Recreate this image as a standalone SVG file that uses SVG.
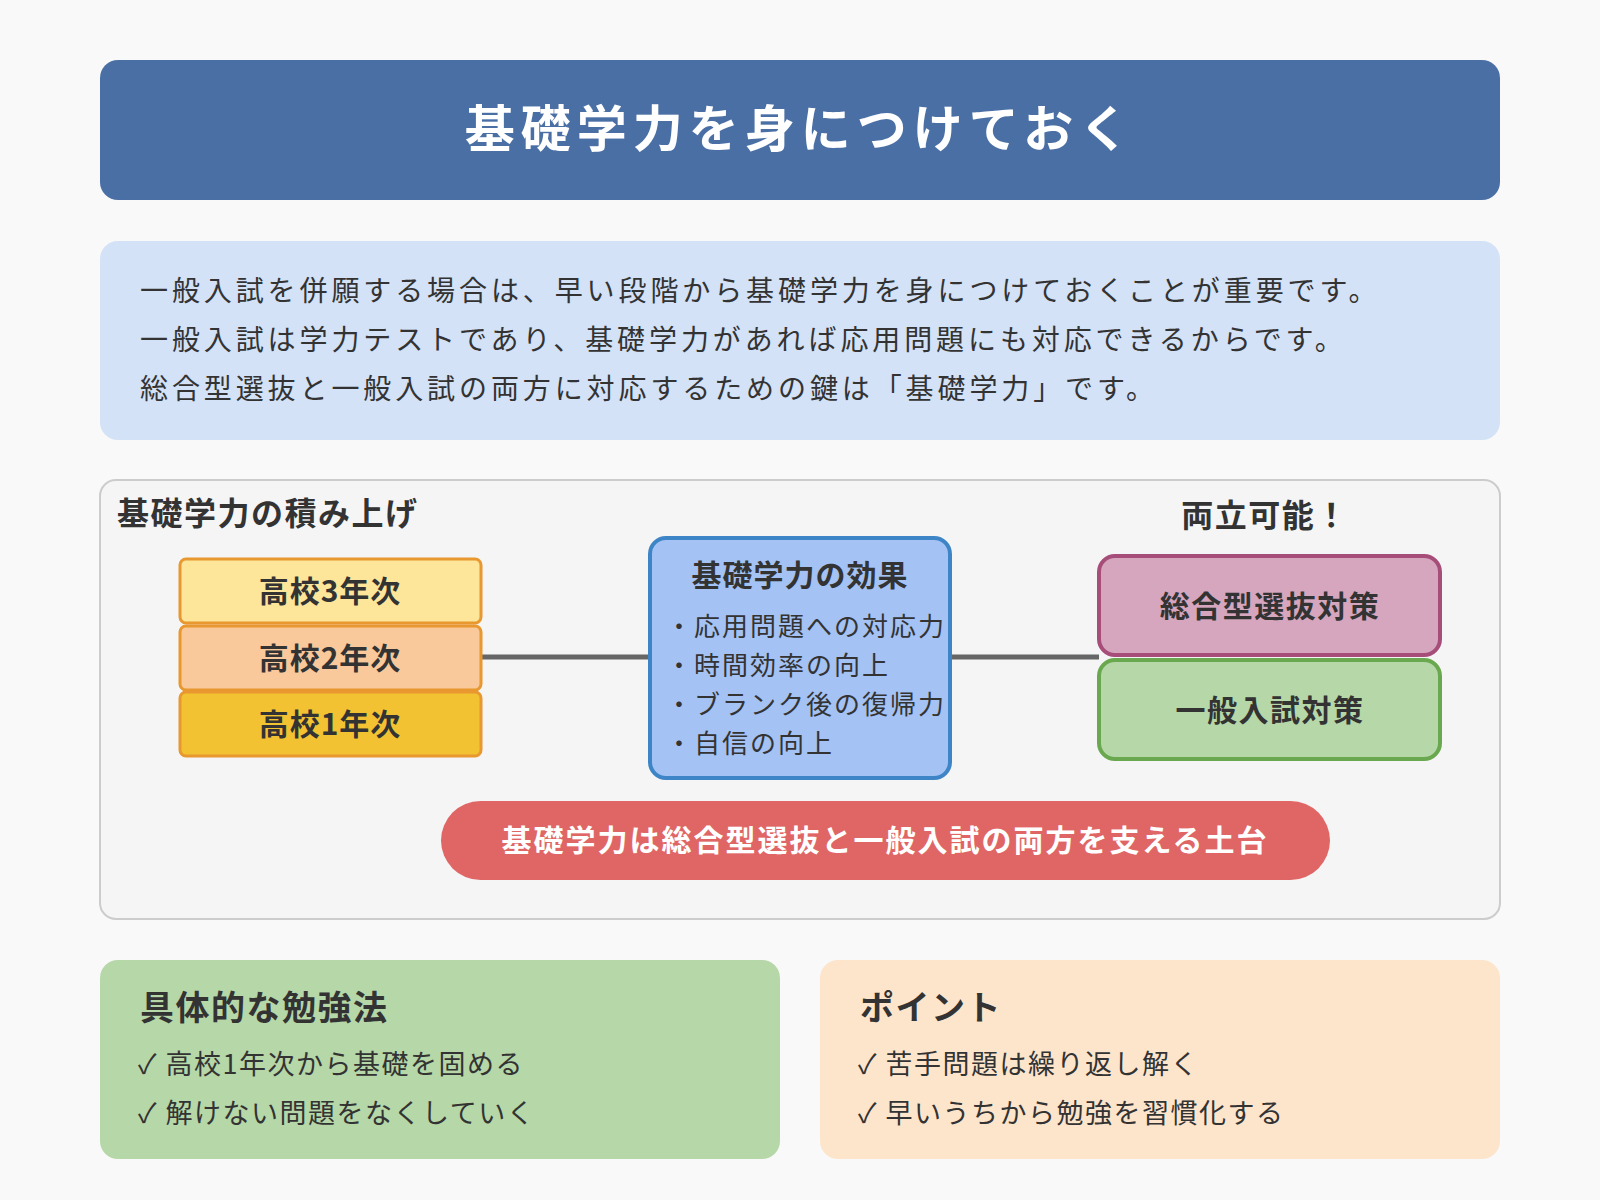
<svg xmlns="http://www.w3.org/2000/svg" width="1600" height="1200" viewBox="0 0 1600 1200">
<style>
text{font-family:"Noto Sans CJK JP","Noto Sans",sans-serif;fill:#333}
.b{font-weight:bold}
.c{text-anchor:middle}
.yr{stroke:#e8982f;stroke-width:3}
.in{font-size:28px;letter-spacing:3.9px}
.bl{font-size:26px;letter-spacing:2px}
.it{font-size:27px;letter-spacing:1.5px}
</style>
<rect width="1600" height="1200" fill="#f9f9f9"/>
<g id="title"><rect x="100" y="60" width="1400" height="140" rx="18" fill="#4a6fa5"/>
<text x="800" y="147" class="b c" font-size="50" letter-spacing="6" style="fill:#fff">基礎学力を身につけておく</text></g>
<g id="intro"><rect x="100" y="241" width="1400" height="199" rx="18" fill="#d3e2f7"/>
<text x="140" y="301" class="in">一般入試を併願する場合は、早い段階から基礎学力を身につけておくことが重要です。</text>
<text x="140" y="350" class="in">一般入試は学力テストであり、基礎学力があれば応用問題にも対応できるからです。</text>
<text x="140" y="399" class="in">総合型選抜と一般入試の両方に対応するための鍵は「基礎学力」です。</text></g>
<g id="panel"><rect x="100" y="480" width="1400" height="439" rx="16" fill="#f5f5f5" stroke="#ccc" stroke-width="2"/>
<text x="117" y="525" class="b" font-size="32" letter-spacing="1.5">基礎学力の積み上げ</text>
<text x="1265" y="527" class="b c" font-size="32" letter-spacing="1.5">両立可能！</text></g>
<g id="connectors"><line x1="481" y1="657" x2="1099" y2="657" stroke="#666" stroke-width="5"/></g>
<g id="y3"><rect class="yr" x="180" y="559" width="301" height="64" rx="6" fill="#fde59a"/><text x="330" y="602" class="b c" font-size="30" letter-spacing="1">高校3年次</text></g>
<g id="y2"><rect class="yr" x="180" y="626" width="301" height="64" rx="6" fill="#f9c89b"/><text x="330" y="669" class="b c" font-size="30" letter-spacing="1">高校2年次</text></g>
<g id="y1"><rect class="yr" x="180" y="692" width="301" height="64" rx="6" fill="#f2c232"/><text x="330" y="735" class="b c" font-size="30" letter-spacing="1">高校1年次</text></g>
<g id="effect"><rect x="650" y="538" width="300" height="240" rx="16" fill="#a4c2f4" stroke="#3d85c6" stroke-width="4"/>
<text x="800" y="586" class="b c" font-size="30" letter-spacing="1">基礎学力の効果</text>
<text x="666" y="636" class="bl">・応用問題への対応力</text>
<text x="666" y="675" class="bl">・時間効率の向上</text>
<text x="666" y="714" class="bl">・ブランク後の復帰力</text>
<text x="666" y="753" class="bl">・自信の向上</text></g>
<g id="sogo"><rect x="1099" y="556" width="341" height="99" rx="16" fill="#d5a6bd" stroke="#a64d79" stroke-width="4"/><text x="1270" y="617" class="b c" font-size="30" letter-spacing="1.5">総合型選抜対策</text></g>
<g id="ippan"><rect x="1099" y="660" width="341" height="99" rx="16" fill="#b6d7a8" stroke="#6aa84f" stroke-width="4"/><text x="1270" y="721" class="b c" font-size="30" letter-spacing="1.5">一般入試対策</text></g>
<g id="base"><rect x="441" y="801" width="889" height="79" rx="39.5" fill="#e06666"/><text x="885" y="851" class="b c" font-size="30" letter-spacing="2" style="fill:#fff">基礎学力は総合型選抜と一般入試の両方を支える土台</text></g>
<g id="study"><rect x="100" y="960" width="680" height="199" rx="18" fill="#b6d7a8"/>
<text x="140" y="1020" class="b" font-size="34" letter-spacing="1.5">具体的な勉強法</text>
<text x="138" y="1074" class="it">✓ 高校1年次から基礎を固める</text>
<text x="138" y="1123" class="it">✓ 解けない問題をなくしていく</text></g>
<g id="point"><rect x="820" y="960" width="680" height="199" rx="18" fill="#fde5cc"/>
<text x="860" y="1020" class="b" font-size="34" letter-spacing="1.5">ポイント</text>
<text x="858" y="1074" class="it">✓ 苦手問題は繰り返し解く</text>
<text x="858" y="1123" class="it">✓ 早いうちから勉強を習慣化する</text></g>
</svg>
